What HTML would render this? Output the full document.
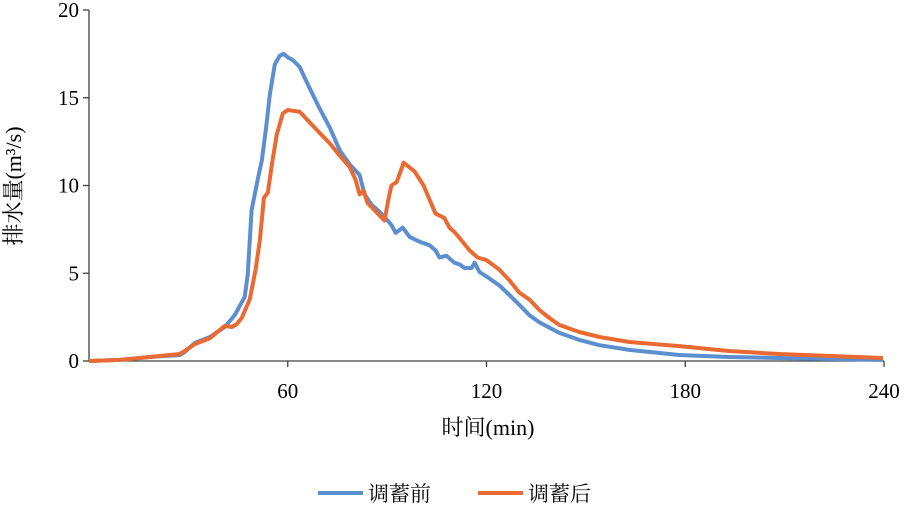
<!DOCTYPE html>
<html><head><meta charset="utf-8"><style>
body{margin:0;background:#fff}
svg text{font-family:"Liberation Serif","Noto Serif CJK SC",serif;fill:#000}
</style></head><body>
<svg id="c" width="908" height="508">
<g id="axes"></g>
<g id="series"></g>
<text x="21" y="186" font-size="22" text-anchor="middle" transform="rotate(-90 21 186)">排水量(m³/s)</text>
<text x="488" y="435" font-size="22" text-anchor="middle">时间(min)</text>
<g>
<g><line x1="318" y1="493" x2="363" y2="493" stroke="#5B8FD0" stroke-width="4"/><text x="368" y="501" font-size="21">调蓄前</text></g>
<g><line x1="478" y1="493" x2="523" y2="493" stroke="#EA6A32" stroke-width="4"/><text x="528" y="501" font-size="21">调蓄后</text></g>
</g>
</svg>
<script>
const xTicks=[60,120,180,240];
const yTicks=[0,5,10,15,20];
const blueT=[0,9.3,18.4,27.4,28.9,32,36.5,41,44,47,47.9,49.1,50.9,52.2,53.4,54.6,56.1,57.6,58.8,60,61.5,63.6,66.6,69.6,72.7,75.7,78.7,81.7,83.2,85.3,87.7,89.5,91.3,92.6,94.7,96.8,99.8,102.8,104.6,105.8,107.9,110.3,111.9,113.4,115.5,116.4,117.9,120.9,123.9,126.9,129.9,133,136,139,142,148,154.1,163.1,178.2,193.2,208.3,239.7];
const blueV=[0,0.06,0.23,0.34,0.51,1.03,1.37,1.94,2.62,3.65,4.9,8.6,10.3,11.45,13.2,15.2,16.9,17.4,17.5,17.3,17.15,16.75,15.55,14.4,13.3,12.0,11.2,10.6,9.5,8.9,8.5,8.15,7.75,7.3,7.6,7.07,6.8,6.6,6.3,5.9,6.0,5.6,5.5,5.3,5.3,5.6,5.07,4.7,4.3,3.76,3.2,2.6,2.2,1.9,1.6,1.2,0.9,0.63,0.34,0.23,0.17,0.06];
const orangeT=[0,9.3,18.4,27.4,28.9,32,36.5,41,43.1,44.6,46.1,48.5,50.3,51.6,52.8,54,55.2,56.7,58.5,60,63.6,66.6,69.6,72.7,75.7,78.7,80.5,81.7,82.9,84.1,86.2,89.2,90.4,91.3,92.9,95,98.3,101,102.8,104.6,107.3,108.8,110.3,111.9,114.9,117.3,120,123.9,126.9,129.9,133,136,139,142,148,154.1,163.1,178.2,193.2,208.3,239.7];
const orangeV=[0,0.06,0.23,0.4,0.57,0.97,1.3,2.0,1.94,2.1,2.45,3.5,5.2,6.9,9.3,9.6,11.2,12.9,14.1,14.3,14.2,13.6,13.0,12.4,11.7,11.05,10.3,9.5,9.7,9.0,8.6,8.0,9.2,10.0,10.2,11.3,10.8,10.0,9.2,8.4,8.15,7.6,7.35,7.0,6.3,5.9,5.75,5.2,4.6,3.9,3.5,2.9,2.45,2.05,1.65,1.37,1.08,0.85,0.57,0.4,0.17];
const X=t=>89+t*(884-89)/240;
const Y=v=>361-v*(361-10)/20;
const NS='http://www.w3.org/2000/svg';
function mk(tag,at,parent){const e=document.createElementNS(NS,tag);for(const k in at)e.setAttribute(k,at[k]);parent.appendChild(e);return e;}
const ax=document.getElementById('axes');
let l=mk('line',{x1:X(0),y1:Y(0),x2:X(240),y2:Y(0),stroke:'#404040','stroke-width':1.3},ax);


l=mk('line',{x1:X(0),y1:Y(0),x2:X(0),y2:Y(20),stroke:'#404040','stroke-width':1.3},ax);


xTicks.forEach(t=>{
  const tk=mk('line',{x1:X(t),y1:Y(0),x2:X(t),y2:Y(0)+6,stroke:'#404040','stroke-width':1.3},ax);
  
  
  const tx=mk('text',{x:X(t),y:Y(0)+37,'font-size':21,'text-anchor':'middle'},ax);tx.textContent=t;
  
  
});
yTicks.forEach(v=>{
  const tk=mk('line',{x1:X(0)-6,y1:Y(v),x2:X(0),y2:Y(v),stroke:'#404040','stroke-width':1.3},ax);
  
  
  const tx=mk('text',{x:X(0)-10,y:Y(v)+7,'font-size':21,'text-anchor':'end'},ax);tx.textContent=v;
  
  
});
const sg=document.getElementById('series');
function line(T,V,color,name){
  const d=T.map((t,i)=>(i?'L':'M')+X(t).toFixed(1)+','+Y(V[i]).toFixed(1)).join('');
  const p=mk('path',{d:d,fill:'none',stroke:color,'stroke-width':4,'stroke-linejoin':'round'},sg);
  
  
}
line(blueT,blueV,'#5B8FD0','series-before');
line(orangeT,orangeV,'#EA6A32','series-after');
</script>
</body></html>
